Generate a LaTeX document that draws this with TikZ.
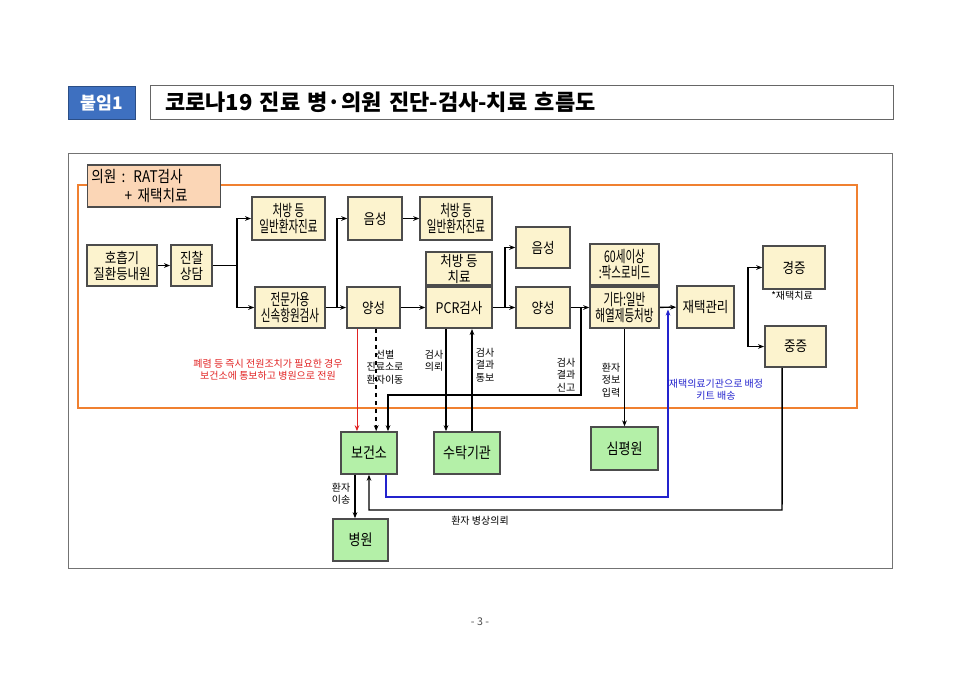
\documentclass[tikz,border=0pt]{standalone}
\usepackage{fontspec}
\setmainfont{Noto Sans CJK KR}
\newfontfamily\boxfont{Noto Sans CJK KR}[FakeStretch=0.85]
\newfontfamily\narrowfont{Noto Sans CJK KR}[FakeStretch=0.66]
\usetikzlibrary{positioning, arrows.meta, calc}
\definecolor{boxyellow}{RGB}{252,243,206}
\definecolor{boxgreen}{RGB}{180,240,168}
\definecolor{clinicfill}{RGB}{251,214,182}
\definecolor{frameorange}{RGB}{240,128,48}
\definecolor{tagblue}{RGB}{62,112,192}
\definecolor{alertred}{RGB}{225,35,35}
\definecolor{kitblue}{RGB}{35,35,205}

\begin{document}
\begin{tikzpicture}[x=0.75pt, y=-0.75pt,
    box/.style={draw=black!70, line width=1.2pt, fill=boxyellow, align=center,
                minimum width=40.5pt, minimum height=31pt, inner sep=1pt,
                font=\boxfont\fontsize{11}{12}\selectfont},
    tight/.style={font=\narrowfont\fontsize{12}{12.5}\selectfont},
    wide/.style={minimum width=52.5pt},
    gbox/.style={box, fill=boxgreen, font=\boxfont\fontsize{11.5}{12}\selectfont},
    note/.style={align=center, inner sep=0pt, font=\fontsize{7.5}{9.2}\selectfont},
    line/.style={line width=1.1pt},
    arr/.style={-{Stealth[length=4.5pt, width=3.5pt]}, line width=1.1pt},
    redarr/.style={-{Stealth[length=4.5pt, width=3.5pt]}, line width=0.7pt, alertred},
    bluearr/.style={-{Stealth[length=4.5pt, width=3.5pt]}, line width=0.9pt, kitblue}
  ]
  \useasboundingbox (0,0) rectangle (960,679);

  % title bar
  \node[fill=tagblue, draw=tagblue!70!black, text=white, minimum width=50pt,
        minimum height=25pt, font=\bfseries\fontsize{13}{15}\selectfont] (tag) at (101.5,102.5) {붙임1};
  \node[draw=black!60, line width=0.6pt, anchor=west, inner xsep=11pt, text width=535pt,
        minimum height=25.5pt, align=left, font=\bfseries\fontsize{16.5}{18}\selectfont] (title) at (150,102)
        {코로나19 진료 병·의원 진단-검사-치료 흐름도};

  % frames
  \draw[black!55, line width=0.7pt] (68,153) rectangle (892,568);
  \draw[frameorange, line width=1.3pt] (78,185) rectangle (857,408);
  \node[box, fill=clinicfill, text width=94pt, minimum height=31.5pt, inner xsep=3pt, align=left,
        font=\boxfont\fontsize{12}{14}\selectfont] (clinic) at (154,186)
        {의원 : RAT검사\\\hspace*{25pt}+ 재택치료};

  % yellow steps
  \node[box, wide] (visit) at (122,265.5) {호흡기\\질환등내원};
  \node[box, minimum width=31pt] (consult) at (191.5,265.5) {진찰\\상담};
  \node[box, tight, minimum width=55pt, minimum height=32pt] (gen1) at (288.5,218.5) {처방 등\\일반환자진료};
  \node[box, tight, wide] (rapid) at (290,307.5) {전문가용\\신속항원검사};
  \node[box, minimum height=32pt] (neg1) at (375,218.5) {음성};
  \node[box, tight, minimum width=54pt, minimum height=32pt] (gen2) at (456,218.5) {처방 등\\일반환자진료};
  \node[box, minimum width=40pt] (pos1) at (373.5,307.5) {양성};
  \node[box, minimum width=49.5pt] (pcr) at (459,307.5) {PCR검사};
  \node[box, minimum width=49.5pt, minimum height=24.75pt, above=0pt of pcr] (rx) {처방 등\\치료};
  \node[box] (neg2) at (543,247.5) {음성};
  \node[box] (pos2) at (543,307.5) {양성};
  \node[box, tight, minimum width=51.75pt] (etc) at (624.5,307.5) {기타:일반\\해열제등처방};
  \node[box, tight, minimum width=51.75pt, above=0pt of etc] (pax) {60세이상\\:팍스로비드};
  \node[box, minimum width=42.75pt, minimum height=31.5pt] (home) at (705.5,307) {재택관리};
  \node[box, minimum width=46.5pt, minimum height=32pt] (mild) at (794,267.5) {경증};
  \node[box, minimum width=46pt] (severe) at (795.5,346.5) {중증};

  % green agencies
  \node[gbox, minimum width=42pt, minimum height=31.5pt] (phc) at (369,453) {보건소};
  \node[gbox, minimum width=49.5pt, minimum height=31.5pt] (lab) at (467,453) {수탁기관};
  \node[gbox, minimum width=50pt, minimum height=32pt] (hira) at (624.5,448.5) {심평원};
  \node[gbox, minimum width=41pt, minimum height=31.5pt] (hosp) at (360.5,540) {병원};

  % junctions
  \coordinate (j1) at (237,265.5);
  \coordinate (j2) at (337,307.5);
  \coordinate (j3) at (505,307.5);
  \coordinate (j4) at (581,307.5);
  \coordinate (j5) at (748,307);
  \coordinate (r1) at (581,395);
  \coordinate (r2) at (388,395);
  \coordinate (b1) at (668,497);
  \coordinate (b2) at (668,309.5);
  \coordinate (s1) at (782,510);

  \draw[arr] (visit) -- (consult);
  \draw[line] (consult) -- (j1);
  \draw[arr] (j1) |- (gen1);
  \draw[arr] (j1) |- (rapid);
  \draw[arr] (rapid) -- (pos1);
  \draw[arr] (j2) |- (neg1);
  \draw[arr] (neg1) -- (gen2);
  \draw[arr] (pos1) -- (pcr);
  \draw[arr] (pcr) -- (pos2);
  \draw[arr] (j3) |- (neg2);
  \draw[arr] (pos2) -- (etc);
  \draw[arr] (etc) -- (home);
  \draw[arr] (j5) |- (mild);
  \draw[arr] (j5) |- (severe);

  \draw[redarr] ([xshift=-12.4pt]pos1.south) -- ([xshift=-12.4pt]pos1.south |- phc.north);
  \draw[arr, dashed] ([xshift=2pt]pos1.south) -- ([xshift=2pt]pos1.south |- phc.north);
  \draw[arr] (j4) -- (r1) -- (r2) -- (r2 |- phc.north);
  \draw[arr] ([xshift=-9.75pt]pcr.south) -- ([xshift=-9.75pt]pcr.south |- lab.north);
  \draw[arr] ([xshift=9.75pt]pcr.south |- lab.north) -- ([xshift=9.75pt]pcr.south);
  \draw[arr] (etc) -- (hira);
  \draw[bluearr] ([xshift=12.75pt]phc.south) |- (b1) -- (b2);
  \draw[arr] ([xshift=-10pt]severe.south) -- (s1) -| (phc.south);
  \draw[arr] ([xshift=-10.5pt]phc.south) -- ([xshift=-10.5pt]phc.south |- hosp.north);

  % labels
  \node[note, text=alertred] (lalert) at (268,370) {폐렴 등 즉시 전원조치가 필요한 경우\\보건소에 통보하고 병원으로 전원};
  \node[note] (lscreen) at (385,367) {선별\\진료소로\\환자이동};
  \node[note] (lreq) at (434,361) {검사\\의뢰};
  \node[note] (lres) at (485,365) {검사\\결과\\통보};
  \node[note] (lrep) at (566,375) {검사\\결과\\신고};
  \node[note] (linfo) at (611,380) {환자\\정보\\입력};
  \node[note, text=kitblue] (lkit) at (716,390) {재택의료기관으로 배정\\키트 배송};
  \node[note] (lhome) at (792,296) {*재택치료};
  \node[note] (lmove) at (341,494) {환자\\이송};
  \node[note] (lbed) at (480,521) {환자 병상의뢰};
  \node[font=\fontsize{8}{9}\selectfont, text=black!70] (pagenum) at (480,622) {- 3 -};
\end{tikzpicture}
\end{document}
